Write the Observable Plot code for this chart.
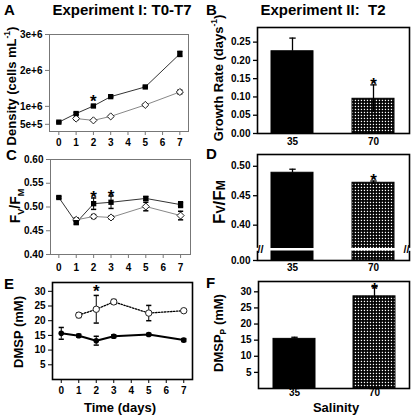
<!DOCTYPE html>
<html><head><meta charset="utf-8">
<script src="https://cdn.jsdelivr.net/npm/d3@7"></script>
<script src="https://cdn.jsdelivr.net/npm/@observablehq/plot@0.6"></script>
<style>
body{margin:0;background:#fff;}
#root{position:relative;width:415px;height:415px;overflow:hidden;font-family:"Liberation Sans",Arial,sans-serif;font-weight:bold;color:#000;}
#root svg.layer{position:absolute;left:0;top:0;}
.t{position:absolute;white-space:nowrap;line-height:1;}
.r{position:absolute;white-space:nowrap;line-height:1;transform:translate(-50%,-50%) rotate(-90deg);}
.c{transform:translateX(-50%);}
sub,sup{font-size:65%;line-height:0;}
</style></head><body><div id="root"></div>
<script>
// ---------- data ----------
const days = [0, 1, 2, 3, 5, 7];
const daysHigh = [1, 2, 3, 5, 7];
// A: cell density
const densCtrl = [5.6e5, 8.0e5, 1.01e6, 1.27e6, 1.54e6, 2.46e6];
const densCtrlErr = [0.02e6, 0.03e6, 0.02e6, 0.02e6, 0.02e6, 0.07e6];
const densHigh = [6.6e5, 6.1e5, 7.2e5, 1.04e6, 1.40e6];
const densHighErr = [0.03e6, 0.02e6, 0.02e6, 0.03e6, 0.05e6];
const densTicks = [5e5, 1e6, 2e6, 3e6];
const densTickLabels = ["5e+5", "1e+6", "2e+6", "3e+6"];
// C: Fv/Fm time course
const fvCtrl = [0.520, 0.467, 0.507, 0.510, 0.518, 0.505];
const fvCtrlErr = [0.002, 0.003, 0.012, 0.013, 0.004, 0.006];
const fvHigh = [0.473, 0.480, 0.478, 0.501, 0.482];
const fvHighErr = [0.004, 0.004, 0.003, 0.009, 0.009];
const fvTicks = [0.40, 0.45, 0.50, 0.55, 0.60];
// E: DMSP time course
const dmCtrl = [15.7, 14.9, 13.2, 14.7, 15.3, 13.4];
const dmCtrlErr = [2.0, 0.5, 1.5, 0.5, 0.4, 0.5];
const dmHigh = [21.9, 23.9, 26.4, 22.6, 23.4];
const dmHighErr = [0.8, 4.7, 0.8, 2.6, 0.5];
const dmTicks = [5, 10, 15, 20, 25, 30];
const dayTicks = [0, 1, 2, 3, 4, 5, 6, 7];
const sigA = [2], sigC = [2, 3], sigE = [2];
// Experiment II bars
const salinity = ["35", "70"];
const growth = [0.225, 0.095];
const growthErr = [0.036, 0.038];
const growthTicks = [0, 0.05, 0.10, 0.15, 0.20, 0.25];
const fvBar = [0.489, 0.472];
const fvBarErr = [0.006, 0.003];
const fvBarTicks = [0.34, 0.40, 0.45, 0.50];  // 0.34 = broken-axis bottom, shown as 0.00
const fvBreak = 0.359;
const dmspP = [15.4, 28.6];
const dmspPErr = [0.5, 3.0];
const dmspPTicks = [5, 10, 15, 20, 25, 30];
const sigBar = ["70"];

// ---------- helpers ----------
const root = document.getElementById("root");
const W = 415, H = 415;
const cap = {draw(ctx, size) { const w = Math.sqrt(size / Math.PI); ctx.moveTo(-w, 0); ctx.lineTo(w, 0); }};
const series = (xs, vs, es) => xs.map((x, i) => ({x, v: vs[i], e: es[i]}));

function layer(frame, opts) {
  const [L, T, R, B] = frame;
  const svg = Plot.plot({
    width: W, height: H,
    marginLeft: L, marginTop: T, marginRight: W - R, marginBottom: H - B,
    style: {background: "transparent", overflow: "visible", fontFamily: "Liberation Sans, Arial, sans-serif", fontSize: "10px", fontWeight: "bold"},
    ...opts
  });
  svg.classList.add("layer");
  root.appendChild(svg);
}
function html(cls, x, y, content, size) {
  const d = document.createElement("div");
  d.className = cls;
  d.style.left = x + "px"; d.style.top = y + "px"; d.style.fontSize = size + "px";
  d.innerHTML = content;
  root.appendChild(d);
}

// pattern for salinity-70 bars
const defs = document.createElementNS("http://www.w3.org/2000/svg", "svg");
defs.setAttribute("width", 0); defs.setAttribute("height", 0);
defs.style.position = "absolute";
defs.innerHTML = `<defs><pattern id="chk" patternUnits="userSpaceOnUse" width="3" height="3">
<rect width="3" height="3" fill="#000"/><rect x="0.8" y="0.8" width="1.3" height="1.3" fill="#fff"/></pattern></defs>`;
root.appendChild(defs);

// line panel marks
function lineMarks(ctrl, high, o) {
  const capR = 2.6;
  const sigSeries = o.sigOn === "high" ? high : ctrl;
  return [
    Plot.frame({stroke: o.frame, strokeWidth: o.frameW}),
    Plot.line(ctrl, {x: "x", y: "v", stroke: o.ctrlLine, strokeWidth: o.ctrlW}),
    Plot.line(high, {x: "x", y: "v", stroke: o.highLine, strokeWidth: o.highW, strokeDasharray: o.highDash}),
    Plot.ruleX(ctrl, {x: "x", y1: d => d.v - d.e, y2: d => d.v + d.e, stroke: "#000", strokeWidth: 1}),
    Plot.ruleX(high, {x: "x", y1: d => d.v - d.e, y2: d => d.v + d.e, stroke: "#000", strokeWidth: 1}),
    Plot.dot(ctrl, {x: "x", y: d => d.v + d.e, symbol: cap, r: capR, stroke: "#000"}),
    Plot.dot(ctrl, {x: "x", y: d => d.v - d.e, symbol: cap, r: capR, stroke: "#000"}),
    Plot.dot(high, {x: "x", y: d => d.v + d.e, symbol: cap, r: capR, stroke: "#000"}),
    Plot.dot(high, {x: "x", y: d => d.v - d.e, symbol: cap, r: capR, stroke: "#000"}),
    Plot.dot(high, {x: "x", y: "v", symbol: o.highSym, r: o.highR, fill: "#fff", stroke: "#222", strokeWidth: 1}),
    Plot.dot(ctrl, {x: "x", y: "v", symbol: o.ctrlSym, r: o.ctrlR, fill: "#000"}),
    Plot.text(sigSeries.filter(d => o.sig.includes(d.x)), {x: "x", y: d => d.v + d.e, text: () => "*", fontSize: 17, dy: o.sigDy, fill: "#000"}),
    Plot.axisY({ticks: o.yTicks, tickFormat: o.yFormat, tickSize: 4, tickPadding: 3, stroke: o.frame, fill: "#000", label: null}),
    Plot.axisX({ticks: dayTicks, tickFormat: d => String(d), tickSize: 4, tickPadding: o.xPad, stroke: o.frame, fill: "#000", label: null})
  ];
}

// ---------- A ----------
layer([49, 34, 188, 131], {
  x: {domain: [-0.54, 7.5]},
  y: {domain: [0.3e6, 3e6]},
  marks: lineMarks(series(days, densCtrl, densCtrlErr), series(daysHigh, densHigh, densHighErr), {
    frame: "#777", frameW: 1, ctrlLine: "#333", ctrlW: 1, highLine: "#888", highW: 1, highDash: null,
    ctrlSym: "square", ctrlR: 3, highSym: "diamond2", highR: 3.2, sig: sigA, sigOn: "ctrl", sigDy: -4,
    yTicks: densTicks, yFormat: d => densTickLabels[densTicks.indexOf(d)], xPad: 3
  })
});
// ---------- C ----------
layer([50, 159, 190, 254], {
  x: {domain: [-0.48, 7.57]},
  y: {domain: [0.40, 0.60]},
  marks: lineMarks(series(days, fvCtrl, fvCtrlErr), series(daysHigh, fvHigh, fvHighErr), {
    frame: "#777", frameW: 1, ctrlLine: "#333", ctrlW: 1, highLine: "#888", highW: 1, highDash: null,
    ctrlSym: "square", ctrlR: 3, highSym: "diamond2", highR: 3.2, sig: sigC, sigOn: "ctrl", sigDy: 0,
    yTicks: fvTicks, yFormat: d => d.toFixed(2), xPad: 5
  })
});
// ---------- E ----------
layer([52, 282, 192, 379], {
  x: {domain: [-0.5, 7.5]},
  y: {domain: [0, 33]},
  marks: lineMarks(series(days, dmCtrl, dmCtrlErr), series(daysHigh, dmHigh, dmHighErr), {
    frame: "#000", frameW: 1.6, ctrlLine: "#000", ctrlW: 2, highLine: "#000", highW: 1.3, highDash: "1.5,1.5",
    ctrlSym: "circle", ctrlR: 2.8, highSym: "circle", highR: 3.2, sig: sigE, sigOn: "high", sigDy: -4,
    yTicks: dmTicks, yFormat: d => String(d), xPad: 3
  })
});

// bar panel marks
function barMarks(vals, errs, o) {
  const rows = salinity.map((s, i) => ({s, v: vals[i], e: errs[i], f: s === "70" ? "url(#chk)" : "#000"}));
  const marks = [
    Plot.barY(rows, {x: "s", y1: o.base, y2: "v", fill: "f", stroke: "#000", strokeWidth: 1}),
    Plot.ruleX(rows, {x: "s", y1: d => d.s === "70" ? d.v - d.e : d.v, y2: d => d.v + d.e, stroke: "#000", strokeWidth: 1.3}),
    Plot.dot(rows, {x: "s", y: d => d.v + d.e, symbol: cap, r: 3.2, stroke: "#000", strokeWidth: 1.3}),
    Plot.text(rows.filter(d => sigBar.includes(d.s)), {x: "s", y: d => d.v + d.e, text: () => "*", fontSize: 17, dy: o.sigDy, fill: "#000"})
  ];
  if (o.brk != null) {
    marks.push(Plot.ruleY([o.brk], {stroke: "#fff", strokeWidth: 2.5, insetLeft: -3, insetRight: -3}));
  }
  marks.push(Plot.frame({stroke: "#000", strokeWidth: 1.6}));
  if (o.brk != null) {
    marks.push(Plot.ruleY([o.brk], {stroke: "#fff", strokeWidth: 3, insetLeft: -3, insetRight: 150}));
    marks.push(Plot.ruleY([o.brk], {stroke: "#fff", strokeWidth: 3, insetLeft: 150, insetRight: -3}));
    marks.push(Plot.text([o.brk], {y: d => d, frameAnchor: "left", text: () => "//", fontSize: 11, fill: "#000"}));
    marks.push(Plot.text([o.brk], {y: d => d, frameAnchor: "right", text: () => "//", fontSize: 11, fill: "#000"}));
  }
  marks.push(Plot.axisY({ticks: o.yTicks, tickFormat: o.yFormat, tickSize: 4, tickPadding: 3, stroke: "#000", strokeWidth: 1.3, fill: "#000", label: null}));
  marks.push(Plot.axisX({tickSize: 0, tickPadding: o.xPad, fill: "#000", label: null}));
  return marks;
}
const barX = {domain: salinity, paddingInner: 0.48, paddingOuter: 0.176};
// ---------- B ----------
layer([257, 27, 409, 133], {
  x: barX, y: {domain: [0, 0.29]}, color: {type: "identity"},
  marks: barMarks(growth, growthErr, {base: 0, yTicks: growthTicks, yFormat: d => d.toFixed(2), sigDy: 0, xPad: 4})
});
// ---------- D ----------
layer([257, 154, 409, 260], {
  x: barX, y: {domain: [0.34, 0.52]}, color: {type: "identity"},
  marks: barMarks(fvBar, fvBarErr, {base: 0.34, brk: fvBreak, yTicks: fvBarTicks, yFormat: d => d < 0.35 ? "0.00" : d.toFixed(2), sigDy: 0, xPad: 3})
});
// ---------- F ----------
layer([258, 281, 409, 388], {
  x: barX, y: {domain: [0, 33.2]}, color: {type: "identity"},
  marks: barMarks(dmspP, dmspPErr, {base: 0, yTicks: dmspPTicks, yFormat: d => String(d), sigDy: 3, xPad: 0})
});

// ---------- text ----------
html("t", 4, 2, "A", 15);
html("t c", 122, 2, "Experiment I: T0-T7", 15);
html("t", 206, 2, "B", 15);
html("t c", 323, 2, "Experiment II:&nbsp; T2", 15);
html("t", 6, 147, "C", 15);
html("t", 206, 146, "D", 15);
html("t", 4, 276, "E", 15);
html("t", 206, 275, "F", 15);
html("t c", 120, 401, "Time (days)", 13);
html("t c", 336, 401, "Salinity", 13);
html("r", 11, 86, "Density (cells mL<sup>-1</sup>)", 13);
html("r", 218, 78, "Growth Rate (days<sup>-1</sup>)", 13);
html("r", 15, 206, "F<sub>V</sub>/F<sub>M</sub>", 14);
html("r", 219, 202, "F<span style='font-size:72%'>V</span>/F<span style='font-size:72%'>M</span>", 17);
html("r", 18, 332, "DMSP (mM)", 13);
html("r", 218, 333, "DMSP<sub>P</sub> (mM)", 13);
</script></body></html>
